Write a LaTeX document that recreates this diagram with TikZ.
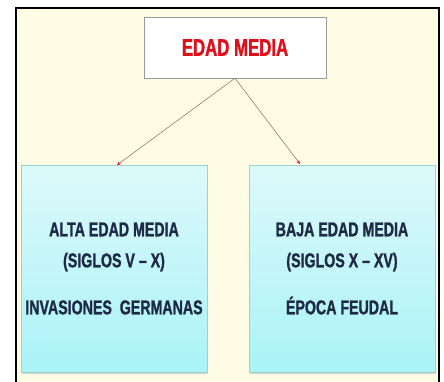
\documentclass[tikz,border=0pt]{standalone}
\usepackage{fontspec}
\setmainfont{Liberation Sans}
\newfontfamily\narrowfont[FakeStretch=0.71,FakeBold=1.2]{Liberation Sans}
\newfontfamily\titlefont[FakeStretch=0.70,FakeBold=1.4]{Liberation Sans}
\usetikzlibrary{arrows.meta,shadows}

\definecolor{fondo}{HTML}{FFFCE6}
\definecolor{rojo}{HTML}{E0101A}
\definecolor{tinta}{HTML}{1E2A46}
\definecolor{cielo}{HTML}{DDF9FA}
\definecolor{cieloB}{HTML}{A9F3F7}
\definecolor{linea}{HTML}{8C7F6C}

\tikzset{
  titulo/.style={draw=gray!80, fill=white, minimum width=182pt, minimum height=61pt,
    font=\titlefont\bfseries\fontsize{24}{28}\selectfont, text=rojo},
  etapa/.style={draw=cieloB!70!gray, top color=cielo, bottom color=cieloB,
    minimum width=186pt, minimum height=207pt, align=center, text=tinta,
    font=\narrowfont\bfseries\fontsize{20}{31}\selectfont,
    drop shadow={opacity=0.3, shadow xshift=1pt, shadow yshift=-1.5pt}},
  flecha/.style={draw=linea, line width=0.6pt, -{Stealth[length=4pt,width=3.5pt,color=rojo]}}
}

\begin{document}
\begin{tikzpicture}[x=1pt, y=-1pt]
  \useasboundingbox (0,0) rectangle (444,381);
  \clip (0,0) rectangle (444,381);
  \fill[fondo] (16,8) rectangle (439,395);
  \draw[line width=1.8pt] (16,8) rectangle (439,395);

  \node[titulo] (edad) at (235,47.5) {EDAD MEDIA};

  \node[etapa] (alta) at (114,268.5) {ALTA EDAD MEDIA\\(SIGLOS V – X)\\[16pt]INVASIONES\ \ GERMANAS};
  \node[etapa] (baja) at (342,268.5) {BAJA EDAD MEDIA\\(SIGLOS X – XV)\\[16pt]ÉPOCA FEUDAL};

  \coordinate (altaTop) at (117,165);
  \coordinate (bajaTop) at (300,164);

  \draw[flecha] (edad.south) -- (altaTop);
  \draw[flecha] (edad.south) -- (bajaTop);
\end{tikzpicture}
\end{document}
